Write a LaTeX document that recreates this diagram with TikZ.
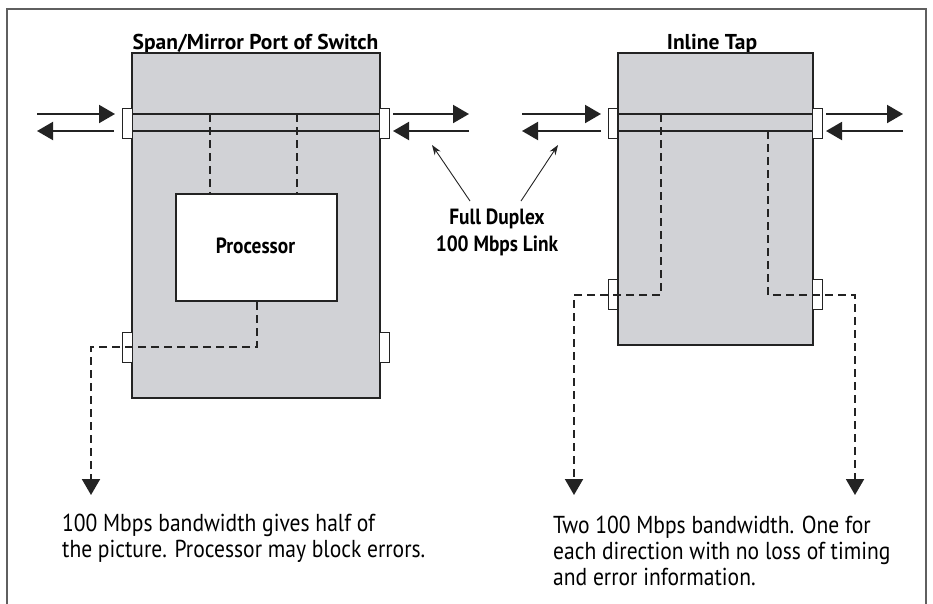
\documentclass[tikz,border=0pt]{standalone}
\usepackage{fontspec}
\setmainfont[FakeStretch=0.88]{PT Sans}
\newfontfamily\headfont{PT Sans}
\usetikzlibrary{arrows.meta}

\definecolor{boxgray}{RGB}{209,210,214}
\definecolor{ink}{RGB}{35,35,35}
\definecolor{framegray}{RGB}{95,95,95}

\tikzset{
  device/.style={draw=ink, line width=2pt, fill=boxgray, inner sep=0pt, anchor=north west},
  cpu/.style={draw=ink, line width=2pt, fill=white, inner sep=0pt, anchor=north west},
  port/.style={draw=ink, line width=1.2pt, fill=white, inner sep=0pt, anchor=north west,
    minimum width=9.5pt, minimum height=30pt},
  bus/.style={draw=ink, line width=2pt},
  tapline/.style={draw=ink, line width=2pt, dash pattern=on 8pt off 5pt},
  droparrow/.style={tapline, -{Triangle[length=16pt,width=18pt]}},
  linkarrow/.style={draw=ink, line width=2pt, -{Triangle[length=16pt,width=18pt]}},
  pointer/.style={draw=ink, line width=0.9pt, -{Stealth[length=10pt,width=7pt]}},
  heading/.style={font=\headfont\bfseries\fontsize{21.5}{24}\selectfont, anchor=base, inner sep=0pt},
  boldlabel/.style={font=\bfseries\fontsize{22}{27}\selectfont, align=center, inner sep=0pt},
  note/.style={font=\fontsize{24.5}{26}\selectfont, align=left, anchor=base west, inner sep=0pt},
}

\begin{document}
\begin{tikzpicture}[x=1pt, y=-1pt]
\useasboundingbox (0,0) rectangle (933,603);

% outer frame, open at the bottom
\draw[framegray, line width=1.3pt] (7,650) -- (7,9) -- (926,9) -- (926,650);

% headings
\node[heading] (hsw) at (255.5,49) {Span/Mirror Port of Switch};
\node[heading] (htap) at (712,49) {Inline Tap};

% device bodies
\node[device, minimum width=248pt, minimum height=345pt] (sw) at (131,52) {};
\node[device, minimum width=195pt, minimum height=292pt] (tap) at (617,52) {};

% duplex lines through each device
\foreach \yy in {114,131} {
  \draw[bus] (sw.west |- 0,\yy) -- (sw.east |- 0,\yy);
  \draw[bus] (tap.west |- 0,\yy) -- (tap.east |- 0,\yy);
}

% processor inside the switch
\node[cpu, minimum width=161pt, minimum height=107pt] (proc) at (175,193) {};
\node[boldlabel] (proclabel) at (255.5,246) {Processor};
\draw[tapline] (210,114) -- (proc.north -| 210,0);
\draw[tapline] (297,114) -- (proc.north -| 297,0);

% ports
\node[port] (swinl) at (122,108) {};
\node[port] (swinr) at (379,108) {};
\node[port] (swmon) at (122,332) {};
\node[port] (swspare) at (379,332) {};
\node[port] (tapinl) at (607.5,108) {};
\node[port] (tapinr) at (812,108) {};
\node[port] (tapmonl) at (607.5,279) {};
\node[port] (tapmonr) at (812,279) {};

% monitor outputs
\coordinate (swout) at (91,495);
\coordinate (tapoutl) at (574,495);
\coordinate (tapoutr) at (855,495);
\draw[droparrow] (proc.south -| 257,0) -- (257,347) -- (91,347) -- (swout);
\draw[droparrow] (661,114) -- (661,295) -- (574,295) -- (tapoutl);
\draw[droparrow] (768,131) -- (768,295) -- (855,295) -- (tapoutr);

% full duplex link arrows
\coordinate (l1a) at (37,114);  \coordinate (l1b) at (115,114);
\coordinate (l1c) at (114,131); \coordinate (l1d) at (37,131);
\coordinate (l2a) at (393,114); \coordinate (l2b) at (469,114);
\coordinate (l2c) at (469,131); \coordinate (l2d) at (393,131);
\coordinate (l3a) at (522,114); \coordinate (l3b) at (601,114);
\coordinate (l3c) at (601,131); \coordinate (l3d) at (522,131);
\coordinate (l4a) at (826,114); \coordinate (l4b) at (903,114);
\coordinate (l4c) at (903,131); \coordinate (l4d) at (826,131);
\foreach \n in {1,2,3,4} {
  \draw[linkarrow] (l\n a) -- (l\n b);
  \draw[linkarrow] (l\n c) -- (l\n d);
}

% link callout
\node[boldlabel] (link) at (497,232) {Full Duplex\\100 Mbps Link};
\coordinate (pl) at (432,145);
\coordinate (pr) at (558,145);
\draw[pointer] (470,201) -- (pl);
\draw[pointer] (521,201) -- (pr);

% notes (anchored on the baseline of their last line)
\node[note] (notesw) at (62,557) {100 Mbps bandwidth gives half of\\the picture. Processor may block errors.};
\node[note] (notetap) at (553,585) {Two 100 Mbps bandwidth. One for\\each direction with no loss of timing\\and error information.};
\end{tikzpicture}
\end{document}
